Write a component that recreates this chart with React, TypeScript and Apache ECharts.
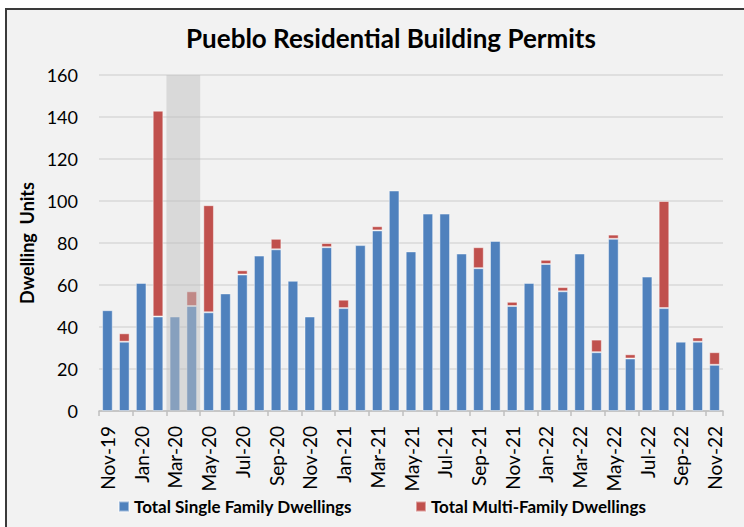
import React, { useEffect, useRef } from "react";
import * as echarts from "echarts";

const categories = [
  "Nov-19", "Dec-19", "Jan-20", "Feb-20", "Mar-20", "Apr-20", "May-20", "Jun-20",
  "Jul-20", "Aug-20", "Sep-20", "Oct-20", "Nov-20", "Dec-20", "Jan-21", "Feb-21",
  "Mar-21", "Apr-21", "May-21", "Jun-21", "Jul-21", "Aug-21", "Sep-21", "Oct-21",
  "Nov-21", "Dec-21", "Jan-22", "Feb-22", "Mar-22", "Apr-22", "May-22", "Jun-22",
  "Jul-22", "Aug-22", "Sep-22", "Oct-22", "Nov-22",
];

const singleFamily = [
  48, 33, 61, 45, 45, 50, 47, 56, 65, 74, 77, 62, 45, 78, 49, 79, 86, 105, 76, 94,
  94, 75, 68, 81, 50, 61, 70, 57, 75, 28, 82, 25, 64, 49, 33, 33, 22,
];

const multiFamily = [
  0, 4, 0, 98, 0, 7, 51, 0, 2, 0, 5, 0, 0, 2, 4, 0, 2, 0, 0, 0,
  0, 0, 10, 0, 2, 0, 2, 2, 0, 6, 2, 2, 0, 51, 0, 2, 6,
];

const shadedRange = ["Mar-20", "Apr-20"];
const yTicks = { min: 0, max: 160, interval: 20 };

const seriesNames = ["Total Single Family Dwellings", "Total Multi-Family Dwellings"];
const FONT = "Lato, 'Open Sans', 'Noto Sans', sans-serif";

export default function App() {
  const ref = useRef<HTMLDivElement>(null);

  useEffect(() => {
    if (!ref.current) return;
    const chart = echarts.init(ref.current, null, { renderer: "svg" });
    const shadeStart = categories.indexOf(shadedRange[0]);
    const shadeEnd = categories.indexOf(shadedRange[1]);

    chart.setOption({
      animation: false,
      backgroundColor: "transparent",
      title: {
        text: "Pueblo Residential Building Permits",
        left: 391,
        textAlign: "center",
        top: 25,
        padding: 0,
        textStyle: { fontFamily: FONT, fontWeight: "bold", fontSize: 26, color: "#000" },
      },
      legend: {
        data: seriesNames,
        left: 118,
        top: 498,
        padding: 0,
        icon: "rect",
        itemWidth: 10,
        itemHeight: 10,
        itemGap: 63,
        textStyle: { fontFamily: FONT, fontWeight: "bold", fontSize: 17, color: "#000" },
      },
      grid: { left: 99, right: 21, top: 75, bottom: 116, containLabel: false },
      xAxis: {
        type: "category",
        data: categories,
        boundaryGap: true,
        axisLine: { show: true, lineStyle: { color: "#bfbfbf", width: 1.5 } },
        axisTick: { show: true, interval: 1, length: 5, lineStyle: { color: "#bfbfbf", width: 1.5 } },
        axisLabel: {
          interval: 1,
          rotate: 90,
          margin: 15,
          fontFamily: FONT,
          fontSize: 19,
          color: "#000",
        },
      },
      yAxis: {
        type: "value",
        min: yTicks.min,
        max: yTicks.max,
        interval: yTicks.interval,
        name: "Dwelling  Units",
        nameLocation: "middle",
        nameGap: 55,
        nameTextStyle: { fontFamily: FONT, fontWeight: "bold", fontSize: 18, color: "#000" },
        axisLine: { show: false },
        axisTick: { show: false },
        axisLabel: { margin: 21, fontFamily: FONT, fontSize: 18, color: "#000" },
        splitLine: { lineStyle: { color: "#d9d9d9", width: 1.5 } },
      },
      series: [
        {
          name: seriesNames[0],
          type: "bar",
          stack: "total",
          barWidth: "63%",
          data: singleFamily,
          itemStyle: { color: "#4f81bd", borderColor: "rgba(255,255,255,0.45)", borderWidth: 1 },
        },
        {
          name: seriesNames[1],
          type: "bar",
          stack: "total",
          barWidth: "63%",
          data: multiFamily.map((v) => (v === 0 ? null : v)),
          itemStyle: { color: "#c0504d", borderColor: "rgba(255,255,255,0.45)", borderWidth: 1 },
        },
        {
          type: "custom",
          z: 10,
          silent: true,
          data: [[shadeStart, yTicks.max, shadeEnd, yTicks.min]],
          renderItem: (params: any, api: any) => {
            const p0 = api.coord([api.value(0), api.value(1)]);
            const p1 = api.coord([api.value(2), api.value(3)]);
            const bw = api.size([1, 0])[0];
            return {
              type: "rect",
              shape: { x: p0[0] - bw / 2, y: p0[1], width: p1[0] - p0[0] + bw, height: p1[1] - p0[1] },
              style: { fill: "rgba(192,192,192,0.5)" },
            };
          },
        },
      ],
    });

    return () => chart.dispose();
  }, []);

  return (
    <div style={{ position: "fixed", left: 0, top: 0, width: 744, height: 527, background: "#fff" }}>
      <div
        style={{
          position: "absolute",
          left: 5,
          top: 8,
          right: 0,
          bottom: 0,
          background: "#f2f2f2",
          borderLeft: "2px solid #3a3a3a",
          borderTop: "2px solid #3a3a3a",
        }}
      />
      <div ref={ref} style={{ position: "absolute", left: 0, top: 0, width: 744, height: 527 }} />
    </div>
  );
}
